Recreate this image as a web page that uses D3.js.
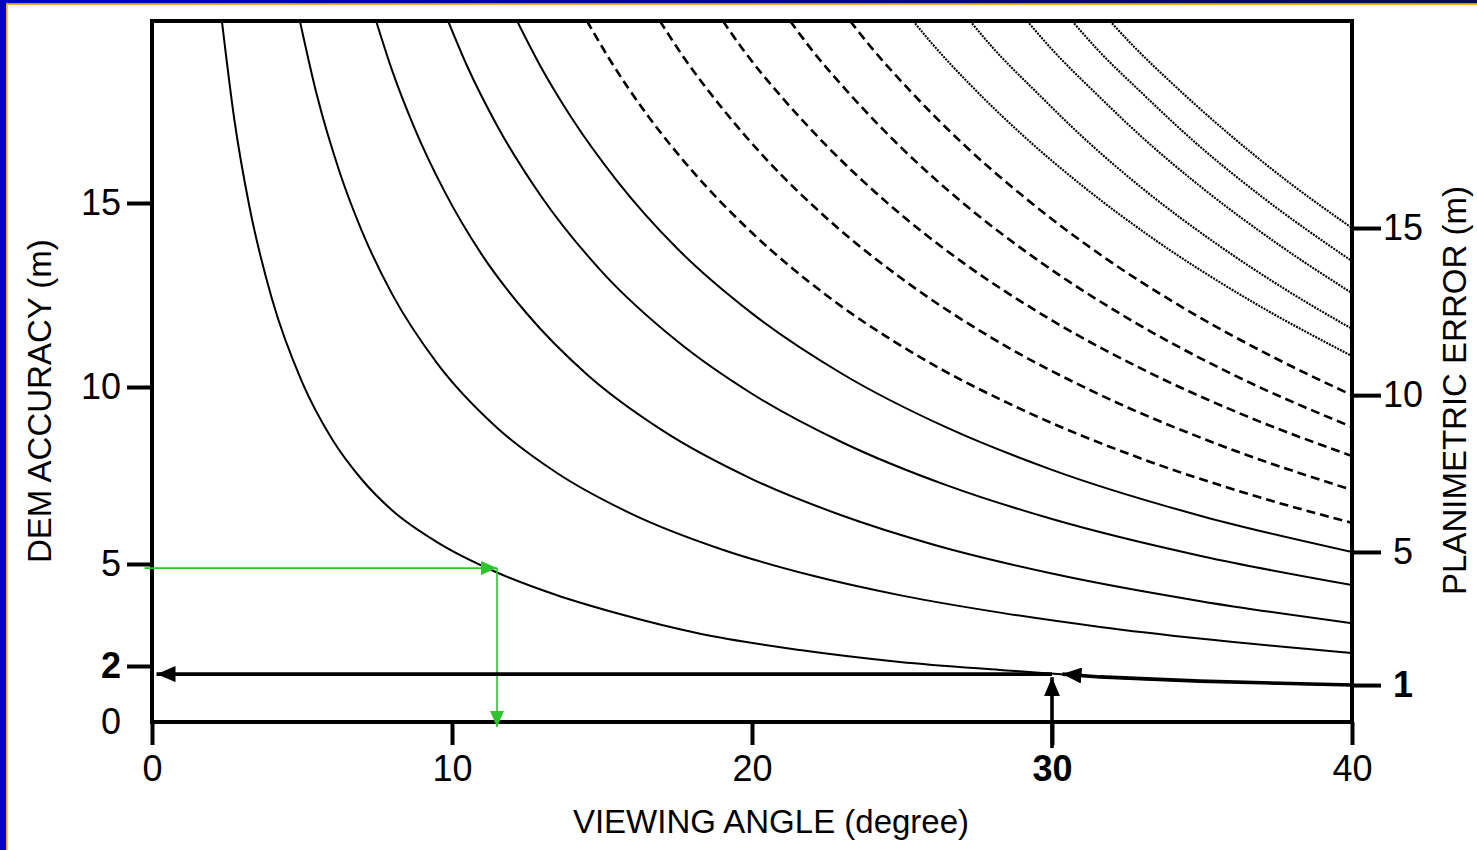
<!DOCTYPE html>
<html>
<head>
<meta charset="utf-8">
<script src="https://cdn.jsdelivr.net/npm/d3@7"></script>
<style>
  html, body { margin: 0; padding: 0; background: #fff; }
  svg { display: block; }
  text { font-family: "Liberation Sans", Arial, Helvetica, sans-serif; fill: #000; }
</style>
</head>
<body>
<svg id="chart" width="1477" height="850"></svg>
<script>
// Axis ticks
const angleTicks = [0, 10, 20, 30, 40];
const demTicks = [0, 2, 5, 10, 15];
const errorTicks = [1, 5, 10, 15];
const boldAngle = 30, boldDem = 2, boldError = 1;

// Iso-lines of planimetric error (m): [viewing angle (deg), DEM accuracy (m)]
const pe1  = [[2.33,20],[2.75,17.26],[3.25,14.89],[4,12.39],[5,10.14],[6,8.53],[7,7.38],[8,6.52],[9.5,5.62],[11.5,4.75],[13.5,4.08],[15.5,3.55],[18.27,2.95],[21.6,2.47],[24.93,2.12],[28.27,1.86],[31.6,1.61],[34.93,1.46],[40,1.32]];
const pe2  = [[4.93,20],[5.5,17.95],[6.25,15.86],[7,14.23],[8,12.53],[9.5,10.65],[11.5,8.85],[13.5,7.57],[16,6.41],[19,5.41],[22,4.66],[25,4.07],[28.27,3.57],[31.6,3.15],[35,2.8],[40,2.38]];
const pe3  = [[7.47,20],[8,18.65],[8.75,17.06],[9.75,15.32],[11,13.59],[12.5,11.99],[14.5,10.34],[17,8.78],[20,7.4],[23,6.37],[26,5.56],[30,4.72],[35,3.9],[40,3.26]];
const pe4  = [[9.87,20],[10.5,18.77],[11.5,17.13],[13,15.15],[15,13.13],[17.5,11.25],[20,9.81],[23,8.44],[26.5,7.22],[30,6.27],[35,5.22],[40,4.38]];
const pe5  = [[12.17,20],[13,18.68],[14,17.32],[15.5,15.61],[17.5,13.77],[20,12.0],[23,10.36],[26.5,8.85],[30,7.66],[35,6.35],[40,5.34]];
const pe6  = [[14.5,20],[15.25,18.95],[16.5,17.43],[18,15.89],[20,14.19],[22.5,12.48],[25.5,10.86],[29,9.36],[33,7.97],[36.5,6.99],[40,6.16]];
const pe7  = [[16.93,20],[17.75,18.97],[19,17.61],[20.5,16.18],[22.5,14.58],[25,12.94],[28,11.33],[31.5,9.82],[35.5,8.39],[40,7.09]];
const pe8  = [[19.03,20],[19.75,19.16],[21,17.9],[22.5,16.56],[24.5,15.01],[27,13.4],[30,11.81],[33.5,10.29],[36.5,9.17],[40,8.05]];
const pe9  = [[21.27,20],[22,19.2],[23.25,18.0],[25,16.5],[27,15.02],[29.5,13.46],[32.5,11.88],[36,10.35],[40,8.87]];
const pe10 = [[23.27,20],[24,19.25],[25.25,18.1],[27,16.65],[29,15.21],[31.5,13.66],[34.5,12.09],[37.5,10.76],[40,9.77]];
const pe11 = [[25.37,20],[26,19.38],[27.25,18.27],[29,16.88],[31,15.48],[33.5,13.96],[36.5,12.4],[40,10.84]];
const pe12 = [[27.27,20],[28,19.29],[29.5,18.03],[31,16.83],[33,15.41],[35.5,13.88],[38,12.54],[40,11.58]];
const pe13 = [[29.17,20],[30,19.22],[31.5,17.98],[33,16.81],[35,15.42],[37.5,13.9],[40,12.55]];
const pe14 = [[30.67,20],[31.5,19.23],[33,18.02],[34.75,16.68],[37,15.17],[40,13.42]];
const pe15 = [[31.93,20],[32.75,19.28],[34,18.29],[35.75,17.0],[37.75,15.66],[40,14.32]];

// Worked examples: green (DEM 5 m -> angle for 1 m error), black (angle 30 -> DEM for 1 m error)
const greenExample = { dem: 4.88, angle: 11.5, startAngle: -0.25, endDem: -0.18 };
const blackExample = { angle: 30, dem: 1.71, curveFrom: 30.35, endAngle: 0.15, startDem: -0.93, tipDem: 1.6 };

const curves = [pe1, pe2, pe3, pe4, pe5, pe6, pe7, pe8, pe9, pe10, pe11, pe12, pe13, pe14, pe15]
  .map((pts, i) => ({ level: i + 1, pts }));

const svg = d3.select("#chart");
const W = 1477, H = 850;
const defs = svg.append("defs");

// Page frame
svg.append("rect").attr("x", 0).attr("y", 0).attr("width", W).attr("height", H).attr("fill", "#fff");
const grad = defs.append("linearGradient").attr("id", "topband")
  .attr("x1", 0).attr("x2", 1).attr("y1", 0).attr("y2", 0);
grad.append("stop").attr("offset", "0%").attr("stop-color", "#0000c4");
grad.append("stop").attr("offset", "100%").attr("stop-color", "#0a0a50");
svg.append("rect").attr("x", 0).attr("y", 0).attr("width", W).attr("height", 3.5).attr("fill", "url(#topband)");
svg.append("rect").attr("x", 0).attr("y", 3.5).attr("width", W).attr("height", 1.5).attr("fill", "#f4a21c");
svg.append("rect").attr("x", 0).attr("y", 0).attr("width", 6).attr("height", H).attr("fill", "#0000c4");
svg.append("rect").attr("x", 6).attr("y", 3.5).attr("width", 1.6).attr("height", H).attr("fill", "#f4a21c");

// Scales (the DEM axis is drawn with unequal spacing between its ticks)
const x = d3.scaleLinear().domain([0, 40]).range([152, 1352]);
const y = d3.scaleLinear().domain([0, 2, 5, 10, 15, 20]).range([722, 666, 564, 387, 203, 21]);

defs.append("clipPath").attr("id", "plotclip").append("rect")
  .attr("x", x(0)).attr("y", y(20)).attr("width", x(40) - x(0)).attr("height", y(0) - y(20));

function arrowMarker(id, color, len, half) {
  defs.append("marker").attr("id", id)
    .attr("markerUnits", "userSpaceOnUse")
    .attr("viewBox", `0 ${-half} ${len} ${2 * half}`)
    .attr("refX", len).attr("refY", 0)
    .attr("markerWidth", len).attr("markerHeight", 2 * half)
    .attr("orient", "auto")
    .append("path").attr("d", `M0,${-half}L${len},0L0,${half}Z`).attr("fill", color);
}
arrowMarker("blackhead", "#000", 19, 8);
arrowMarker("greenhead", "#2fc42f", 16, 7);

// Curves: 1-5 m solid, 6-10 m dashed, 11-15 m dotted
const line = d3.line().x(d => x(d[0])).y(d => y(d[1])).curve(d3.curveMonotoneX);
const gCurves = svg.append("g").attr("clip-path", "url(#plotclip)");
curves.forEach(c => {
  const p = gCurves.append("path").attr("d", line(c.pts)).attr("fill", "none");
  if (c.level <= 5) {
    p.attr("stroke", "#000").attr("stroke-width", 2);
  } else if (c.level <= 10) {
    p.attr("stroke", "#000").attr("stroke-width", 2.6).attr("stroke-dasharray", "9,5");
  } else {
    p.attr("stroke", "#000").attr("stroke-width", 2.1).attr("stroke-dasharray", "2,1.1");
  }
});

// Plot frame
svg.append("rect")
  .attr("x", x(0)).attr("y", y(20)).attr("width", x(40) - x(0)).attr("height", y(0) - y(20))
  .attr("fill", "none").attr("stroke", "#000").attr("stroke-width", 4);

// Bottom axis: viewing angle
const gx = svg.append("g").attr("transform", `translate(0,${y(0)})`)
  .call(d3.axisBottom(x).tickValues(angleTicks).tickSize(23).tickPadding(10).tickFormat(d3.format("d")));
gx.select(".domain").remove();
gx.selectAll(".tick line").attr("stroke", "#000").attr("stroke-width", 4);
gx.selectAll(".tick text").attr("font-size", 36).attr("fill", "#000")
  .attr("font-weight", d => d === boldAngle ? "bold" : "normal");

// Left axis: DEM accuracy
const gy = svg.append("g").attr("transform", `translate(${x(0)},0)`)
  .call(d3.axisLeft(y).tickValues(demTicks).tickSize(25).tickPadding(6).tickFormat(d3.format("d")));
gy.select(".domain").remove();
gy.selectAll(".tick line").attr("stroke", "#000").attr("stroke-width", 4)
  .attr("display", d => d === 0 ? "none" : null);
gy.selectAll(".tick text").attr("font-size", 36).attr("fill", "#000")
  .attr("x", -31)
  .attr("font-weight", d => d === boldDem ? "bold" : "normal");

// Right axis: planimetric error, placed where each iso-line meets the right edge
const errorScale = d3.scaleLinear().domain(curves.map(c => c.level))
  .range(curves.map(c => y(c.pts[c.pts.length - 1][1])));
const gr = svg.append("g").attr("transform", `translate(${x(40)},0)`)
  .call(d3.axisRight(errorScale).tickValues(errorTicks).tickSize(29).tickPadding(6).tickFormat(d3.format("d")));
gr.select(".domain").remove();
gr.selectAll(".tick line").attr("stroke", "#000").attr("stroke-width", 4);
gr.selectAll(".tick text").attr("font-size", 36).attr("fill", "#000")
  .attr("text-anchor", "middle").attr("x", 51)
  .attr("font-weight", d => d === boldError ? "bold" : "normal");

// Axis titles
svg.append("text").attr("x", 771).attr("y", 833)
  .attr("text-anchor", "middle").attr("font-size", 33).text("VIEWING ANGLE (degree)");
svg.append("text").attr("transform", `translate(51,${y(9.6)}) rotate(-90)`)
  .attr("text-anchor", "middle").attr("font-size", 33).text("DEM ACCURACY (m)");
svg.append("text").attr("transform", `translate(1466,${y(9.9)}) rotate(-90)`)
  .attr("text-anchor", "middle").attr("font-size", 33).text("PLANIMETRIC ERROR (m)");

// Green example: DEM accuracy 5 m read across to the 1 m line, then down to the angle
svg.append("line")
  .attr("x1", x(greenExample.startAngle)).attr("y1", y(greenExample.dem))
  .attr("x2", x(greenExample.angle)).attr("y2", y(greenExample.dem))
  .attr("stroke", "#2fc42f").attr("stroke-width", 1.6).attr("marker-end", "url(#greenhead)");
svg.append("line")
  .attr("x1", x(greenExample.angle)).attr("y1", y(greenExample.dem))
  .attr("x2", x(greenExample.angle)).attr("y2", y(greenExample.endDem))
  .attr("stroke", "#2fc42f").attr("stroke-width", 1.6).attr("marker-end", "url(#greenhead)");

// Black example: 1 m line from the right edge, angle 30 up, then across to the DEM axis
const thickPts = pe1.filter(d => d[0] > blackExample.curveFrom).reverse()
  .concat([[blackExample.curveFrom, blackExample.dem]]);
svg.append("path").attr("d", d3.line().x(d => x(d[0])).y(d => y(d[1]))(thickPts))
  .attr("fill", "none").attr("stroke", "#000").attr("stroke-width", 3.6)
  .attr("marker-end", "url(#blackhead)");
svg.append("line")
  .attr("x1", x(blackExample.angle)).attr("y1", y(blackExample.dem))
  .attr("x2", x(blackExample.endAngle)).attr("y2", y(blackExample.dem))
  .attr("stroke", "#000").attr("stroke-width", 3.6).attr("marker-end", "url(#blackhead)");
svg.append("line")
  .attr("x1", x(blackExample.angle)).attr("y1", y(blackExample.startDem))
  .attr("x2", x(blackExample.angle)).attr("y2", y(blackExample.tipDem))
  .attr("stroke", "#000").attr("stroke-width", 3.6).attr("marker-end", "url(#blackhead)");
</script>
</body>
</html>
